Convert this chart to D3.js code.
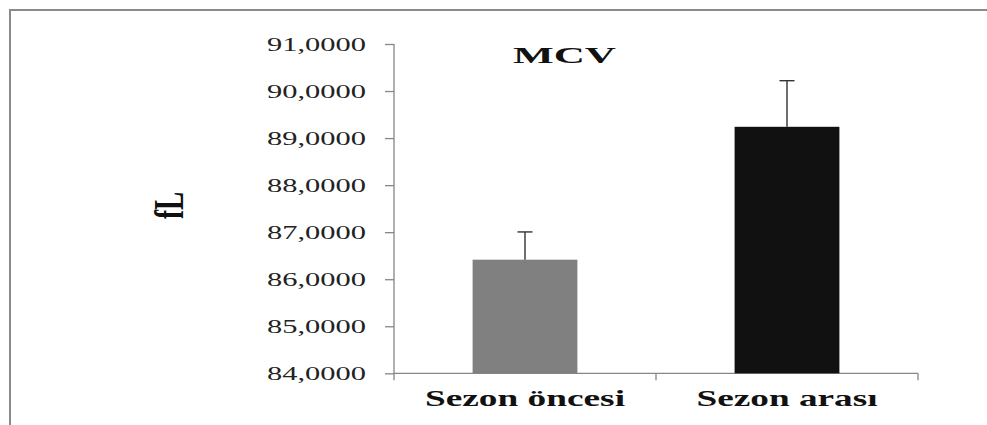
<!DOCTYPE html>
<html>
<head>
<meta charset="utf-8">
<script src="https://cdn.jsdelivr.net/npm/d3@7"></script>
<style>
  html, body { margin: 0; padding: 0; background: #fff; }
  svg { display: block; }
</style>
</head>
<body>
<svg id="chart" width="987" height="425"></svg>
<script>
const categories = ["Sezon öncesi", "Sezon arası"];
const means = [86.415, 89.24];
const errors = [0.59, 0.98];
const barColors = ["#808080", "#111111"];
const yTicks = [84, 85, 86, 87, 88, 89, 90, 91];
const title = "MCV";
const yLabel = "fL";

const svg = d3.select("#chart");
const serif = "'Liberation Serif', 'Times New Roman', serif";
const axisColor = "#868686";

// outer frame (cut off at right/bottom)
svg.append("rect")
  .attr("x", 10).attr("y", 10).attr("width", 1100).attr("height", 600)
  .attr("fill", "none").attr("stroke", "#8a8a8a").attr("stroke-width", 2);

const y = d3.scaleLinear().domain([84, 91]).range([373.3, 44]);
const x = d3.scaleBand().domain(categories).range([394, 918])
  .paddingInner(0.6).paddingOuter(0.3);

// y axis
const yAxis = d3.axisLeft(y).tickValues(yTicks).tickSize(9).tickPadding(19)
  .tickFormat(d => d3.format(".4f")(d).replace(".", ","));
const gy = svg.append("g").attr("transform", "translate(394,0)").call(yAxis);
gy.select(".domain").remove();
gy.selectAll(".tick line").attr("stroke", axisColor).attr("stroke-width", 1.3);
gy.selectAll(".tick text")
  .attr("font-family", serif).attr("font-size", 19).attr("fill", "#222")
  .attr("dy", "0.34em")
  .attr("textLength", 99).attr("lengthAdjust", "spacingAndGlyphs");
svg.append("line")
  .attr("x1", 394).attr("x2", 394).attr("y1", y(91)).attr("y2", y(84) + 7)
  .attr("stroke", axisColor).attr("stroke-width", 1.3);

// x axis
const [r0, r1] = x.range();
svg.append("line")
  .attr("x1", r0).attr("x2", r1).attr("y1", y(84)).attr("y2", y(84))
  .attr("stroke", axisColor).attr("stroke-width", 1.3);
const step = x.step();
const bounds = d3.range(categories.length + 1).map(i => r0 + i * step);
svg.selectAll(".xtick").data(bounds.slice(1)).enter().append("line")
  .attr("x1", d => d).attr("x2", d => d)
  .attr("y1", y(84)).attr("y2", y(84) + 7)
  .attr("stroke", axisColor).attr("stroke-width", 1.3);

// bars
svg.selectAll(".bar").data(categories).enter().append("rect")
  .attr("x", d => x(d))
  .attr("width", x.bandwidth())
  .attr("y", (d, i) => y(means[i]))
  .attr("height", (d, i) => y(84) - y(means[i]))
  .attr("fill", (d, i) => barColors[i]);

// error bars (upper only)
const cap = 15;
categories.forEach((c, i) => {
  const cx = x(c) + x.bandwidth() / 2;
  svg.append("line")
    .attr("x1", cx).attr("x2", cx)
    .attr("y1", y(means[i])).attr("y2", y(means[i] + errors[i]))
    .attr("stroke", "#333").attr("stroke-width", 1.4);
  svg.append("line")
    .attr("x1", cx - cap / 2).attr("x2", cx + cap / 2)
    .attr("y1", y(means[i] + errors[i])).attr("y2", y(means[i] + errors[i]))
    .attr("stroke", "#333").attr("stroke-width", 1.4);
});

// category labels
const catWidths = [200, 181];
svg.selectAll(".cat").data(categories).enter().append("text")
  .attr("x", d => x(d) + x.bandwidth() / 2)
  .attr("y", 406)
  .attr("text-anchor", "middle")
  .attr("font-family", serif).attr("font-weight", "bold").attr("font-size", 22.5)
  .attr("fill", "#111")
  .attr("textLength", (d, i) => catWidths[i]).attr("lengthAdjust", "spacingAndGlyphs")
  .text(d => d);

// title
svg.append("text")
  .attr("x", 564.5).attr("y", 62.5)
  .attr("text-anchor", "middle")
  .attr("font-family", serif).attr("font-weight", "bold").attr("font-size", 23)
  .attr("fill", "#111")
  .attr("textLength", 103).attr("lengthAdjust", "spacingAndGlyphs")
  .text(title);

// y label
svg.append("text")
  .attr("transform", "translate(183,205.5) scale(1.6,1) rotate(-90)")
  .attr("text-anchor", "middle")
  .attr("font-family", serif).attr("font-weight", "bold").attr("font-size", 27)
  .attr("fill", "#111")
  .text(yLabel);
</script>
</body>
</html>
